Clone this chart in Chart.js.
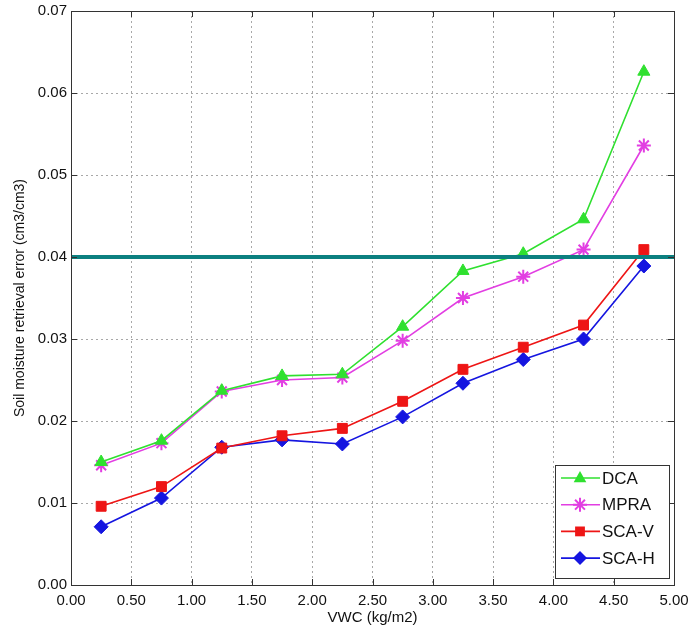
<!DOCTYPE html>
<html>
<head>
<meta charset="utf-8">
<script src="https://cdn.jsdelivr.net/npm/chart.js@4.4.1/dist/chart.umd.min.js"></script>
<style>
  html, body { margin: 0; padding: 0; background: #fff; }
  #wrap { width: 691px; height: 628px; }
</style>
</head>
<body>
<div id="wrap"><canvas id="myChart" width="691" height="628"></canvas></div>
<script>
const vwc = [0.25, 0.75, 1.25, 1.75, 2.25, 2.75, 3.25, 3.75, 4.25, 4.75];
const dca = [0.0150, 0.0176, 0.0237, 0.0255, 0.0257, 0.0315, 0.0383, 0.0404, 0.0446, 0.0626];
const mpra = [0.0146, 0.0173, 0.0236, 0.0250, 0.0253, 0.0298, 0.0350, 0.0376, 0.0409, 0.0536];
const scaV = [0.0096, 0.0120, 0.0167, 0.0182, 0.0191, 0.0224, 0.0263, 0.0290, 0.0317, 0.0409];
const scaH = [0.0071, 0.0106, 0.0168, 0.0177, 0.0172, 0.0205, 0.0246, 0.0275, 0.0300, 0.0389];
const targetLine = 0.04;

const FONT = '"Liberation Sans", Arial, sans-serif';

const series = [
    { label: 'DCA', data: dca, color: '#2fe02f', style: 'triangle', radius: 7 },
    { label: 'MPRA', data: mpra, color: '#e23ee2', style: 'star', radius: 7 },
    { label: 'SCA-V', data: scaV, color: '#ee1515', style: 'rect', radius: 7 },
    { label: 'SCA-H', data: scaH, color: '#1515e0', style: 'rectRot', radius: 7 },
];

function toPoints(values) {
    return vwc.map((x, i) => ({ x: x, y: values[i] }));
}

const datasets = series.map(s => ({
    label: s.label,
    data: toPoints(s.data),
    borderColor: s.color,
    backgroundColor: s.color,
    borderWidth: 1.6,
    pointStyle: s.style,
    pointRadius: s.radius,
    pointBorderWidth: s.style === 'star' ? 2 : 1,
    pointBorderColor: s.color,
    pointBackgroundColor: s.color,
    tension: 0,
    order: 1,
}));

datasets.push({
    label: 'threshold',
    data: [{ x: 0, y: targetLine }, { x: 5, y: targetLine }],
    borderColor: '#0c8080',
    borderWidth: 4,
    pointRadius: 0,
    clip: false,
    order: 0,
});

// marker shapes for the legend box
function drawMarker(ctx, style, x, y, r, color) {
    ctx.save();
    ctx.fillStyle = color;
    ctx.strokeStyle = color;
    ctx.lineWidth = 2;
    ctx.beginPath();
    if (style === 'triangle') {
        ctx.moveTo(x, y - r);
        ctx.lineTo(x + r * 0.9, y + r * 0.6);
        ctx.lineTo(x - r * 0.9, y + r * 0.6);
        ctx.closePath();
        ctx.fill();
    } else if (style === 'rect') {
        ctx.rect(x - r * 0.7, y - r * 0.7, r * 1.4, r * 1.4);
        ctx.fill();
    } else if (style === 'rectRot') {
        ctx.moveTo(x, y - r);
        ctx.lineTo(x + r, y);
        ctx.lineTo(x, y + r);
        ctx.lineTo(x - r, y);
        ctx.closePath();
        ctx.fill();
    } else if (style === 'star') {
        for (let k = 0; k < 4; k++) {
            const a = k * Math.PI / 4;
            ctx.moveTo(x - Math.cos(a) * r, y - Math.sin(a) * r);
            ctx.lineTo(x + Math.cos(a) * r, y + Math.sin(a) * r);
        }
        ctx.stroke();
    }
    ctx.restore();
}

const framePlugin = {
    id: 'frame',
    afterDraw(chart) {
        const { ctx, chartArea: a, scales } = chart;
        ctx.save();
        ctx.strokeStyle = '#333';
        ctx.lineWidth = 1;
        ctx.strokeRect(a.left + 0.5, a.top + 0.5, a.right - a.left, a.bottom - a.top);
        // inward ticks, matlab style
        ctx.beginPath();
        scales.x.ticks.forEach(t => {
            const px = Math.round(scales.x.getPixelForValue(t.value)) + 0.5;
            ctx.moveTo(px, a.bottom); ctx.lineTo(px, a.bottom - 6);
            ctx.moveTo(px, a.top); ctx.lineTo(px, a.top + 6);
        });
        scales.y.ticks.forEach(t => {
            const py = Math.round(scales.y.getPixelForValue(t.value)) + 0.5;
            ctx.moveTo(a.left, py); ctx.lineTo(a.left + 6, py);
            ctx.moveTo(a.right, py); ctx.lineTo(a.right - 6, py);
        });
        ctx.stroke();

        // legend box
        const bx = 555, by = 465, bw = 114, bh = 113;
        ctx.fillStyle = '#fff';
        ctx.fillRect(bx, by, bw, bh);
        ctx.strokeStyle = '#333';
        ctx.strokeRect(bx + 0.5, by + 0.5, bw, bh);
        ctx.font = '17px ' + FONT;
        ctx.textBaseline = 'middle';
        series.forEach((s, i) => {
            const y = by + 13 + i * 26.7;
            ctx.strokeStyle = s.color;
            ctx.lineWidth = 1.6;
            ctx.beginPath();
            ctx.moveTo(bx + 6, y);
            ctx.lineTo(bx + 45, y);
            ctx.stroke();
            drawMarker(ctx, s.style, bx + 25, y, 7, s.color);
            ctx.fillStyle = '#111';
            ctx.fillText(s.label, bx + 47, y + 1);
        });
        ctx.restore();
    }
};

const ctx = document.getElementById('myChart').getContext('2d');
new Chart(ctx, {
    type: 'line',
    data: { datasets: datasets },
    options: {
        responsive: false,
        animation: false,
        devicePixelRatio: 1,
        layout: { padding: { left: 0, right: 17, top: 11, bottom: 0 } },
        plugins: {
            legend: { display: false },
            tooltip: { enabled: false },
        },
        scales: {
            x: {
                type: 'linear',
                min: 0,
                max: 5,
                afterFit: function (scale) {
                    scale.height = 43;
                    scale.paddingLeft = 0;
                    scale.paddingRight = 0;
                },
                ticks: {
                    stepSize: 0.5,
                    padding: 7,
                    color: '#111',
                    font: { family: FONT, size: 15 },
                    maxRotation: 0,
                    callback: function (value) { return value.toFixed(2); }
                },
                grid: {
                    drawTicks: false,
                    color: '#a8a8a8',
                    lineWidth: 1,
                },
                border: { display: false, dash: [2, 3] },
                title: {
                    display: true,
                    text: 'VWC (kg/m2)',
                    color: '#111',
                    font: { family: FONT, size: 15 },
                    padding: { top: 0, bottom: 1 }
                }
            },
            y: {
                min: 0,
                max: 0.07,
                afterFit: function (scale) {
                    scale.width = 71;
                    scale.paddingTop = 0;
                    scale.paddingBottom = 0;
                },
                ticks: {
                    stepSize: 0.01,
                    padding: 4,
                    color: '#111',
                    font: { family: FONT, size: 15 },
                    callback: function (value) { return value.toFixed(2); }
                },
                grid: {
                    drawTicks: false,
                    color: '#a8a8a8',
                    lineWidth: 1,
                },
                border: { display: false, dash: [2, 3] },
                title: {
                    display: true,
                    text: 'Soil moisture retrieval error (cm3/cm3)',
                    color: '#111',
                    font: { family: FONT, size: 14 },
                    padding: { top: 12, bottom: 0 }
                }
            }
        }
    },
    plugins: [framePlugin]
});
</script>
</body>
</html>
